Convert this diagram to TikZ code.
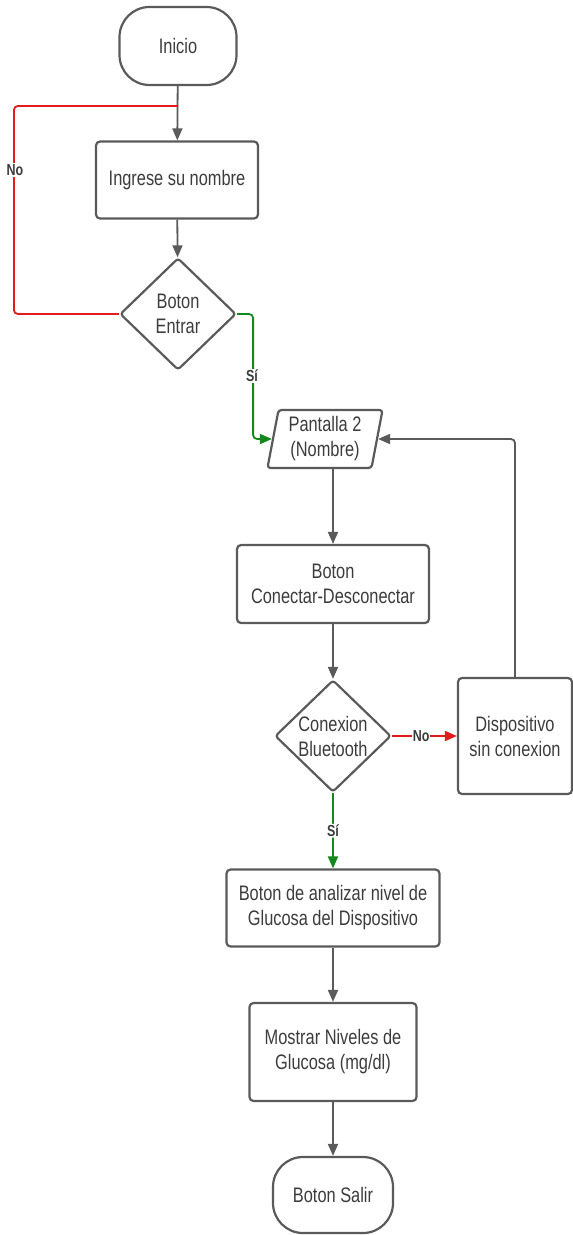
\documentclass[tikz,border=0pt]{standalone}
\usepackage{fontspec}
\setmainfont{Liberation Sans}[FakeStretch=0.78]
\usetikzlibrary{shapes.geometric,arrows.meta,calc}
\definecolor{txt}{HTML}{3C3C3C}
\definecolor{edge}{HTML}{5A5A5A}
\definecolor{lred}{HTML}{E31B1B}
\definecolor{lgreen}{HTML}{12891A}
\begin{document}
\begin{tikzpicture}[x=1pt,y=-1pt,
  base/.style={draw=edge, line width=2.2pt, text=txt, align=center, inner sep=0pt,
    font=\fontsize{21}{25}\selectfont},
  procbox/.style={base, rectangle, rounded corners=4pt},
  termbox/.style={base, rectangle, rounded corners=30pt},
  decbox/.style={base, diamond, rounded corners=3pt, minimum width=116pt, minimum height=112pt},
  iobox/.style={base, trapezium, trapezium left angle=79, trapezium right angle=101,
    trapezium stretches=true, rounded corners=3pt, minimum width=116pt, minimum height=58pt},
  conn/.style={draw=edge, line width=1.8pt, -{Triangle[length=12pt,width=10pt]}},
  redline/.style={draw=lred, line width=1.8pt, rounded corners=4pt},
  greenline/.style={draw=lgreen, line width=1.8pt, rounded corners=4pt, -{Triangle[length=12pt,width=10pt]}},
  lbl/.style={fill=white, inner sep=1pt, text=txt, font=\fontsize{16}{18}\selectfont\bfseries}
]
\useasboundingbox (0,0) rectangle (573,1235);

\node[termbox, minimum width=117pt, minimum height=78pt] (ini) at (178,46) {Inicio};
\node[procbox, minimum width=162pt, minimum height=77pt] (ing) at (177,180) {Ingrese su nombre};
\node[decbox] (be) at (178,314) {Boton\\Entrar};
\node[iobox] (p2) at (325,439) {Pantalla 2\\(Nombre)};
\node[procbox, minimum width=192pt, minimum height=78pt] (con) at (333,584) {Boton\\Conectar-Desconectar};
\node[decbox] (cb) at (333,736) {Conexion\\Bluetooth};
\node[procbox, minimum width=114pt, minimum height=116pt] (dis) at (515,736) {Dispositivo\\sin conexion};
\node[procbox, minimum width=213pt, minimum height=77pt] (ana) at (333,908) {Boton de analizar nivel de\\Glucosa del Dispositivo};
\node[procbox, minimum width=167pt, minimum height=98pt] (mos) at (333,1052) {Mostrar Niveles de\\Glucosa (mg/dl)};
\node[termbox, minimum width=120pt, minimum height=76pt] (sal) at (333,1195) {Boton Salir};

\coordinate (j1) at (178,106);

\draw[conn] (ini) -- (ing);
\draw[conn] (ing) -- (be);
\draw[redline] (be.west) -- ++(-105,0) |- (j1);
\node[lbl] at (15,170) {No};
\draw[greenline] (be.east) -- ++(16,0) |- (p2.west);
\node[lbl] at (252,376) {Sí};
\draw[conn] (con.north |- p2.south) -- (con.north);
\draw[conn] (con) -- (cb);
\draw[draw=lred, line width=1.8pt, -{Triangle[length=12pt,width=10pt]}] (cb.east) -- (dis.west)
  node[pos=0.45, lbl, fill=white, inner sep=0.5pt] {No};
\draw[conn, rounded corners=4pt] (dis.north) |- (p2.east);
\draw[greenline] (cb.south) -- (ana.north) node[pos=0.5, lbl] {Sí};
\draw[conn] (ana) -- (mos);
\draw[conn] (mos) -- (sal);
\end{tikzpicture}
\end{document}
